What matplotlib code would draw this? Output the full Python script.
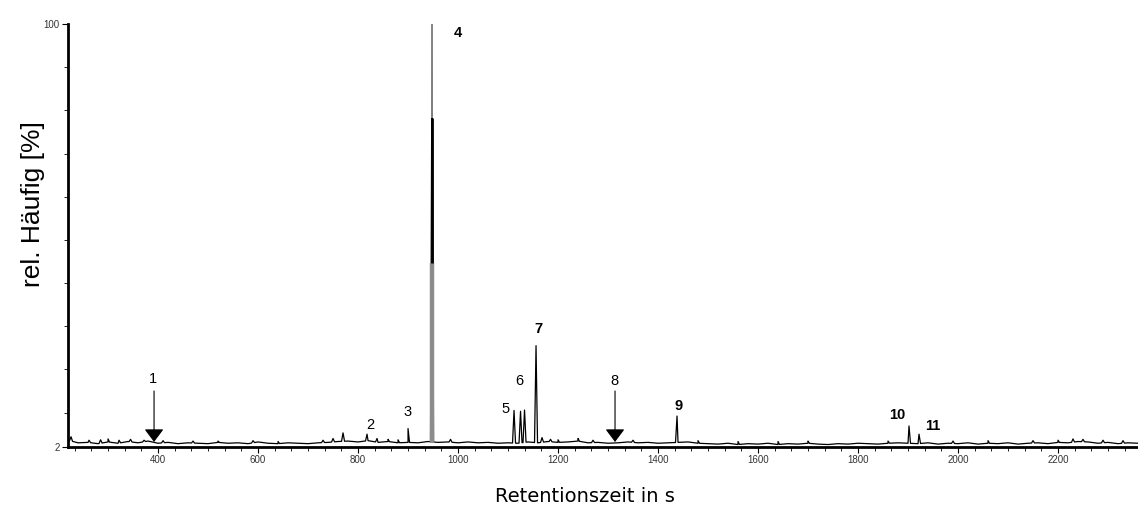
import numpy as np
import matplotlib.pyplot as plt
from matplotlib.ticker import FixedLocator, MultipleLocator

# Baseline of the chromatogram (time in s, rel. abundance in %)
base_t = list(range(220, 2361, 20))
base_y = [3.6, 3.0, 3.1, 2.8, 3.2, 2.9, 3.3, 3.0, 3.4, 2.9,
          3.1, 2.8, 3.0, 2.9, 2.8, 3.1, 2.9, 3.0, 2.8, 3.2,
          2.9, 2.8, 3.0, 2.9, 2.8, 3.0, 3.1, 3.3, 3.4, 3.2,
          3.5, 3.1, 3.3, 3.0, 3.1, 3.0, 3.3, 3.1, 3.2, 3.0,
          3.2, 3.0, 3.1, 2.9, 3.0, 2.9, 3.2, 3.0, 3.3, 3.1,
          3.2, 3.4, 3.0, 3.1, 2.9, 3.0, 3.2, 3.0, 3.1, 2.9,
          3.0, 3.1, 3.2, 2.9, 2.8, 2.7, 2.9, 2.6, 2.8, 2.7,
          2.9, 2.6, 2.8, 2.7, 2.9, 2.7, 2.6, 2.8, 2.7, 2.9,
          2.8, 2.7, 2.9, 3.0, 2.9, 2.8, 3.0, 2.7, 2.9, 2.8,
          3.0, 2.7, 2.9, 2.8, 3.0, 2.7, 2.9, 3.0, 2.8, 3.1,
          3.0, 3.3, 3.2, 2.9, 3.1, 2.8, 3.0, 2.9]

# Peaks: retention time and apex height
peak_t = [226, 262, 285, 300, 322, 345, 372, 410, 470, 520, 590, 640,
          730, 750, 770, 818, 838, 860, 880, 900, 948, 985,
          1112, 1125, 1133, 1156, 1168, 1185, 1200, 1240, 1270, 1350,
          1438, 1480, 1560, 1640, 1700, 1860, 1902, 1922, 1990, 2060,
          2150, 2200, 2230, 2250, 2290, 2330]
peak_h = [4.4, 3.6, 3.7, 3.9, 3.6, 3.8, 3.6, 3.5, 3.4, 3.4, 3.5, 3.3,
          3.6, 4.0, 5.3, 5.0, 4.0, 3.8, 3.7, 6.3, 100.0, 3.8,
          10.5, 10.3, 10.6, 25.5, 4.2, 3.8, 3.7, 4.0, 3.6, 3.6,
          9.2, 3.5, 3.3, 3.3, 3.4, 3.4, 6.9, 5.0, 3.4, 3.5,
          3.5, 3.6, 3.9, 3.8, 3.6, 3.5]

# Peak numbering
labels = ['1', '2', '3', '4', '5', '6', '7', '8', '9', '10', '11']
label_t = [390, 824, 898, 1000, 1094, 1122, 1160, 1312, 1442, 1878, 1950]
label_y = [17.8, 7.1, 10.1, 98.0, 10.8, 17.3, 29.4, 17.3, 11.6, 9.5, 6.9]
label_bold = [False, False, False, True, False, False, True, False, True, True, True]

# arrows marking peaks 1 and 8
arrow_t = [392, 1314]

# build the trace
t = list(base_t)
y = list(base_y)
for pt, ph in zip(peak_t, peak_h):
    for dt, val in ((-3, None), (0, ph), (3, None)):
        t.append(pt + dt)
        y.append(np.interp(pt + dt, base_t, base_y) if val is None else val)
order = np.argsort(t, kind='stable')
t = np.array(t)[order]
y = np.array(y)[order]

fig = plt.figure(figsize=(11.38, 5.11), dpi=100)
ax = fig.add_axes([0.0598, 0.125, 0.9402, 0.828])

ax.plot(t, y, color='black', lw=0.9)

# main peak, drawn in the scanned grey/black bands
ax.vlines(948, 3.0, 44.7, color='#8c8c8c', lw=3.2, zorder=3)
ax.vlines(948, 44.7, 78.2, color='black', lw=2.0, zorder=3)
ax.vlines(948, 78.2, 100, color='#8c8c8c', lw=1.3, zorder=3)

for at in arrow_t:
    ax.annotate('', xy=(at, 3.2), xytext=(at, 15.0),
                arrowprops=dict(arrowstyle='-|>,head_width=0.6,head_length=0.8',
                                color='black', lw=0.8, shrinkA=0, shrinkB=0))

for lab, lt, ly, b in zip(labels, label_t, label_y, label_bold):
    ax.text(lt, ly, lab, ha='center', va='center', fontsize=10.5,
            fontweight='bold' if b else 'normal', family='Liberation Sans')

ax.set_xlim(220, 2360)
ax.set_ylim(2, 100)

ax.spines['top'].set_visible(False)
ax.spines['right'].set_visible(False)
ax.spines['left'].set_linewidth(2)
ax.spines['bottom'].set_linewidth(2)

ax.xaxis.set_major_locator(FixedLocator(list(range(400, 2201, 200))))
ax.xaxis.set_minor_locator(MultipleLocator(100 / 3))
ax.yaxis.set_major_locator(FixedLocator([2, 100]))
ax.yaxis.set_minor_locator(FixedLocator(list(range(10, 100, 10))))
ax.tick_params(axis='both', which='major', length=4, width=0.8, labelsize=7, pad=2,
               labelcolor='#333333')
ax.tick_params(axis='both', which='minor', length=3, width=0.6)
for lab in ax.get_xticklabels() + ax.get_yticklabels():
    lab.set_family('Liberation Sans')

ax.set_xlabel('Retentionszeit in s', fontsize=14, family='DejaVu Sans', labelpad=12)
ax.xaxis.set_label_coords(0.483, -0.095)
ax.set_ylabel('rel. Häufig [%]', fontsize=19, family='Liberation Sans')
ax.yaxis.set_label_coords(-0.022, 0.575)

fig.savefig('out.png', dpi=100)
